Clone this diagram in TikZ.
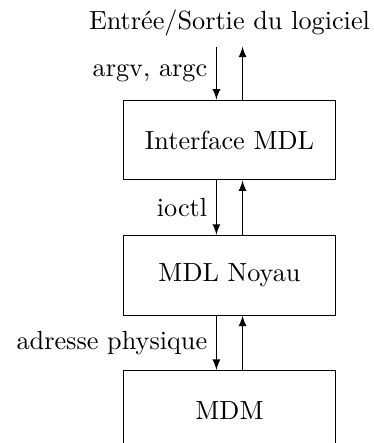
\documentclass[tikz,border=0pt]{standalone}
\usetikzlibrary{positioning}

\tikzset{
	bloc/.style={draw, minimum width=2.85cm, minimum height=1.07cm},
	fleche/.style={->, >=latex},
}

\begin{document}
\begin{tikzpicture}
	\useasboundingbox (0,0) rectangle (5,-5.938);

	%blocs
	\node[bloc] (interface) at (3.076,-1.877) {Interface MDL};
	\node[bloc, below=0.728cm of interface] (noyau) {MDL Noyau};
	\node[bloc, below=0.728cm of noyau] (mdm) {MDM};

	%entree/sortie du logiciel
	\coordinate (entree) at ([yshift=0.71cm]interface.north);
	\node[above=0.02cm of entree] (titre) {Entrée/Sortie du logiciel};
	\draw[fleche] ([xshift=-0.175cm]entree) -- node[midway, left] (argv) {argv, argc} ([xshift=-0.175cm]interface.north);
	\draw[fleche] ([xshift=0.175cm]interface.north) -- ([xshift=0.175cm]entree);

	%interface -> noyau
	\draw[fleche] ([xshift=-0.175cm]interface.south) -- node[midway, left] (ioctl) {ioctl} ([xshift=-0.175cm]noyau.north);
	\draw[fleche] ([xshift=0.175cm]noyau.north) -- ([xshift=0.175cm]interface.south);

	%noyau -> MDM
	\draw[fleche] ([xshift=-0.175cm]noyau.south) -- node[midway, left] (adresse) {adresse physique} ([xshift=-0.175cm]mdm.north);
	\draw[fleche] ([xshift=0.175cm]mdm.north) -- ([xshift=0.175cm]noyau.south);
\end{tikzpicture}
\end{document}
